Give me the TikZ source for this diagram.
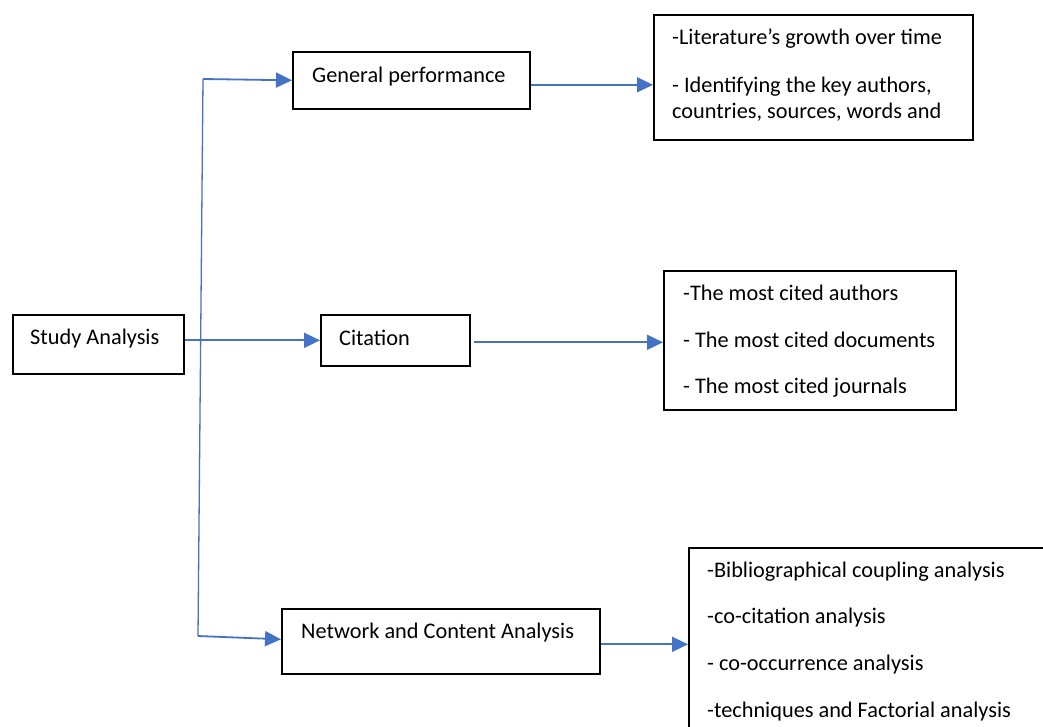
\documentclass[tikz,border=0pt]{standalone}
\usepackage{fontspec}
\setmainfont{Carlito}
\usetikzlibrary{arrows.meta}
\definecolor{arrblue}{HTML}{4472C4}
\tikzset{
  box/.style={draw=black, line width=1.6pt, inner sep=0pt, anchor=north west, fill=white},
  txt/.style={anchor=base west, inner sep=0pt, font=\fontsize{22.3}{26}\selectfont},
  conn/.style={draw=arrblue, line width=1.8pt},
  arr/.style={conn, -{Triangle[length=16pt,width=15pt]}},
}
\begin{document}
\begin{tikzpicture}[x=1pt,y=-1pt]
\clip (0,0) rectangle (1043,726);
\fill[white] (0,0) rectangle (1043,726);
% boxes
\node[box, minimum width=171pt, minimum height=59pt] (study) at (12,314) {};
\node[box, minimum width=237pt, minimum height=57pt] (gen) at (292,51) {};
\node[box, minimum width=149pt, minimum height=51pt] (cit) at (320,314) {};
\node[box, minimum width=318pt, minimum height=65pt] (net) at (281,608) {};
\node[box, minimum width=319pt, minimum height=125pt] (tr) at (653,14) {};
\node[box, minimum width=292pt, minimum height=139pt] (mr) at (663,270) {};
\node[box, minimum width=380pt, minimum height=200pt] (br) at (688,547) {};
% texts
\node[txt] (t1) at (30,344) {Study Analysis};
\node[txt] (t2) at (312,82) {General performance};
\node[txt] (t3) at (339,345) {Citation};
\node[txt] (t4) at (301,638) {Network and Content Analysis};
\node[txt] (a1) at (672,44) {-Literature’s growth over time};
\node[txt] (a2) at (672,92) {- Identifying the key authors,};
\node[txt] (a3) at (672,118) {countries, sources, words and};
\node[txt] (b1) at (683,300) {-The most cited authors};
\node[txt] (b2) at (683,347) {- The most cited documents};
\node[txt] (b3) at (683,393) {- The most cited journals};
\node[txt] (c1) at (707,577) {-Bibliographical coupling analysis};
\node[txt] (c2) at (707,623) {-co-citation analysis};
\node[txt] (c3) at (707,670) {- co-occurrence analysis};
\node[txt] (c4) at (707,717) {-techniques and Factorial analysis};
% connectors
\coordinate (top) at (203,79);
\coordinate (bot) at (198,636);
\draw[conn, line width=1.3pt] (top) -- (bot);
\draw[arr] (top) -- (gen.west);
\draw[arr] (bot) -- ([yshift=2pt]net.west);
\draw[arr] (study.east |- cit.west) -- (cit.west);
\draw[arr] ([yshift=-4.5pt]gen.east) -- ([yshift=-4.5pt]gen.east -| tr.west);
\draw[arr] ([xshift=3pt,yshift=-2pt]cit.east) -- ([yshift=-2pt]cit.east -| mr.west);
\draw[arr] ([yshift=-3pt]net.east) -- ([yshift=-3pt]net.east -| br.west);
\end{tikzpicture}
\end{document}
